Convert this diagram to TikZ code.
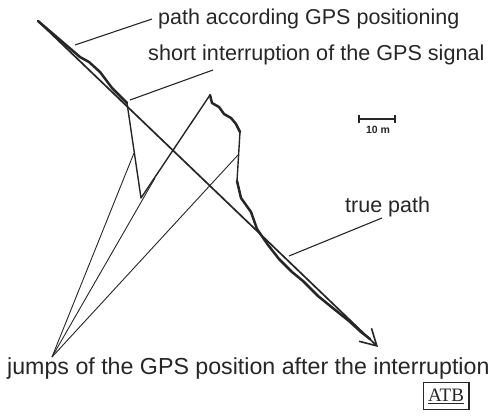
\documentclass[tikz,border=0pt]{standalone}
\usepackage{fontspec}
\setmainfont{Liberation Sans}
\newfontfamily\atbfont{Liberation Serif}
\usetikzlibrary{arrows.meta}
\definecolor{inkgray}{RGB}{38,38,38}

\begin{document}
\begin{tikzpicture}[x=1pt,y=-1pt,
  txtlabel/.style={anchor=base west, inner sep=0pt, text=inkgray, font=\fontsize{21.5}{24}\selectfont},
  leader/.style={draw=inkgray, line width=1.1pt},
  pointer/.style={draw=inkgray, line width=0.9pt},
  gpsline/.style={draw=inkgray, line width=2.5pt, line cap=round, line join=round},
  jumpline/.style={draw=inkgray, line width=1.4pt, line join=round},
  truepath/.style={draw=inkgray, line width=1.7pt, -{Straight Barb[length=16pt,width=18pt,line width=1.6pt]}}]

\useasboundingbox (0,0) rectangle (490,420);

% Points of the paths
\coordinate (start) at (38,21);
\coordinate (tip) at (378,347);
\coordinate (interrupt) at (127,103);
\coordinate (vpoint) at (141,198);
\coordinate (peak) at (210,95);
\coordinate (corner) at (240,132);
\coordinate (rejoin) at (237,181);
\coordinate (gpsend) at (370,339);

% Points hit by the jump pointers
\coordinate (hitone) at (134,153);
\coordinate (hittwo) at (155,178);
\coordinate (hitthree) at (238,155);

% Labels
\node[txtlabel] (gpslabel) at (158,25) {path according GPS positioning};
\node[txtlabel, font=\fontsize{21.6}{24}\selectfont] (intlabel) at (148,61) {short interruption of the GPS signal};
\node[txtlabel] (truelabel) at (345,212) {true path};
\node[txtlabel, font=\fontsize{23.2}{25}\selectfont] (jumplabel) at (7,374) {jumps of the GPS position after the interruption};
\coordinate (jumppoint) at (52,357);

% True path
\draw[truepath] (start) -- (tip);

% GPS path
\draw[gpsline] (start) -- (80,57) -- (89,62) -- (100,72) -- (112,88) -- (interrupt);
\draw[jumpline] (interrupt) -- (vpoint) -- (peak);
\draw[gpsline] (peak) -- (212,103) -- (219,107) -- (224,114) -- (231,118) -- (236,124) -- (corner);
\draw[jumpline] (corner) -- (rejoin);
\draw[gpsline] (rejoin) -- (241,198) -- (251,212) -- (257,229) -- (268,245) -- (279,259)
  -- (292,272) -- (303,281) -- (318,296) -- (334,309) -- (349,321) -- (361,332) -- (gpsend);

% Leaders
\coordinate (gpsmark) at (75,45);
\coordinate (gpsend1) at (152,19);
\draw[leader] (gpsmark) -- (gpsend1);
\coordinate (intmark) at (130,100);
\coordinate (intend) at (213,70);
\draw[leader] (intmark) -- (intend);
\coordinate (truemark) at (289,256);
\coordinate (trueend) at (382,218);
\draw[leader] (truemark) -- (trueend);

% Jump pointers
\draw[pointer] (jumppoint) -- (hitone);
\draw[pointer] (jumppoint) -- (hittwo);
\draw[pointer] (jumppoint) -- (hitthree);

% Scale bar
\coordinate (barleft) at (359,119);
\coordinate (barright) at (395,119);
\draw[draw=inkgray, line width=1.3pt] (barleft) -- (barright);
\draw[draw=inkgray, line width=1.1pt] ([yshift=-4pt]barleft) -- ([yshift=4pt]barleft);
\draw[draw=inkgray, line width=1.1pt] ([yshift=-4pt]barright) -- ([yshift=4pt]barright);
\node[anchor=base, inner sep=0pt, text=inkgray, font=\bfseries\fontsize{10.5}{12}\selectfont] (barlabel) at (378,133) {10 m};

% Logo
\node[draw=inkgray, line width=1.1pt, inner xsep=5pt, inner ysep=6pt, text=inkgray, font=\atbfont\fontsize{19}{21}\selectfont] (atb) at (446,396) {\underline{ATB}};
\end{tikzpicture}
\end{document}
